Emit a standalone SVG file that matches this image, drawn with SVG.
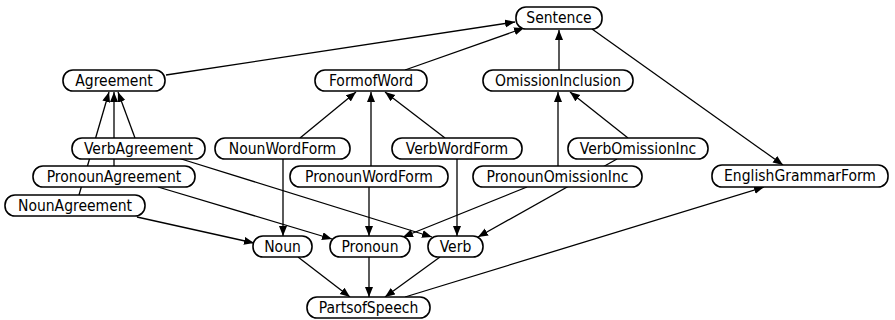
<svg xmlns="http://www.w3.org/2000/svg" width="895" height="320" viewBox="0 0 895 320">
<style>
.n rect{fill:#fff;stroke:#000;stroke-width:1.6}
.n text{font-family:"DejaVu Sans Condensed","DejaVu Sans",Verdana,sans-serif;font-stretch:condensed;font-size:15.5px;fill:#000;text-anchor:middle;dominant-baseline:central}
.e path{fill:none;stroke:#000;stroke-width:1.3;marker-end:url(#a)}
</style>
<defs>
<marker id="a" markerUnits="userSpaceOnUse" markerWidth="12" markerHeight="10" refX="10" refY="4" orient="auto">
<path d="M0,0 L10,4 L0,8 z" fill="#000"/>
</marker>
</defs>
<rect width="895" height="320" fill="#fff"/>
<g id="connectors" class="e">
<path d="M166,75 L515,22"/>
<path d="M405,70 L524,28"/>
<path d="M559,70 L559,30"/>
<path d="M592,29 L783,165"/>
<path d="M79,195 L109,92"/>
<path d="M114,167 L114,92"/>
<path d="M135,138 L118,92"/>
<path d="M178,158 L432,237"/>
<path d="M158,187 L332,239"/>
<path d="M137,217 L254,243"/>
<path d="M300,138 L356,92"/>
<path d="M283,159 L283,236"/>
<path d="M371,167 L371,92"/>
<path d="M369,187 L369,236"/>
<path d="M445,138 L385,92"/>
<path d="M457,159 L457,236"/>
<path d="M628,138 L570,92"/>
<path d="M617,159 L478,237"/>
<path d="M558,167 L558,92"/>
<path d="M527,187 L403,237"/>
<path d="M298,257 L350,297"/>
<path d="M369,257 L369,297"/>
<path d="M440,257 L385,297"/>
<path d="M405,297 L764,187"/>
</g>
<g id="Sentence" class="n"><rect x="516" y="7" width="86" height="22" rx="10"/><text x="559" y="18">Sentence</text></g>
<g id="Agreement" class="n"><rect x="63" y="70" width="102" height="21" rx="10"/><text x="114" y="80.5">Agreement</text></g>
<g id="FormofWord" class="n"><rect x="315" y="70" width="112" height="21" rx="10"/><text x="371" y="80.5">FormofWord</text></g>
<g id="OmissionInclusion" class="n"><rect x="483" y="70" width="150" height="21" rx="10"/><text x="558" y="80.5">OmissionInclusion</text></g>
<g id="VerbAgreement" class="n"><rect x="72" y="138" width="133" height="21" rx="10"/><text x="138.5" y="148.5">VerbAgreement</text></g>
<g id="NounWordForm" class="n"><rect x="215" y="138" width="135" height="21" rx="10"/><text x="282.5" y="148.5">NounWordForm</text></g>
<g id="VerbWordForm" class="n"><rect x="392" y="138" width="130" height="21" rx="10"/><text x="457" y="148.5">VerbWordForm</text></g>
<g id="VerbOmissionInc" class="n"><rect x="568" y="138" width="140" height="21" rx="10"/><text x="638" y="148.5">VerbOmissionInc</text></g>
<g id="PronounAgreement" class="n"><rect x="33" y="166" width="162" height="21" rx="10"/><text x="114" y="176.5">PronounAgreement</text></g>
<g id="PronounWordForm" class="n"><rect x="290" y="166" width="158" height="21" rx="10"/><text x="369" y="176.5">PronounWordForm</text></g>
<g id="PronounOmissionInc" class="n"><rect x="473" y="166" width="169" height="21" rx="10"/><text x="557.5" y="176.5">PronounOmissionInc</text></g>
<g id="NounAgreement" class="n"><rect x="5" y="195" width="140" height="21" rx="10"/><text x="75" y="205.5">NounAgreement</text></g>
<g id="EnglishGrammarForm" class="n"><rect x="712" y="165" width="176" height="22" rx="10"/><text x="800" y="176">EnglishGrammarForm</text></g>
<g id="Noun" class="n"><rect x="253" y="236" width="59" height="21" rx="10"/><text x="282.5" y="246.5">Noun</text></g>
<g id="Pronoun" class="n"><rect x="330" y="236" width="80" height="21" rx="10"/><text x="370" y="246.5">Pronoun</text></g>
<g id="Verb" class="n"><rect x="428" y="236" width="55" height="21" rx="10"/><text x="455.5" y="246.5">Verb</text></g>
<g id="PartsofSpeech" class="n"><rect x="307" y="297" width="123" height="21" rx="10"/><text x="368.5" y="307.5">PartsofSpeech</text></g>
</svg>
